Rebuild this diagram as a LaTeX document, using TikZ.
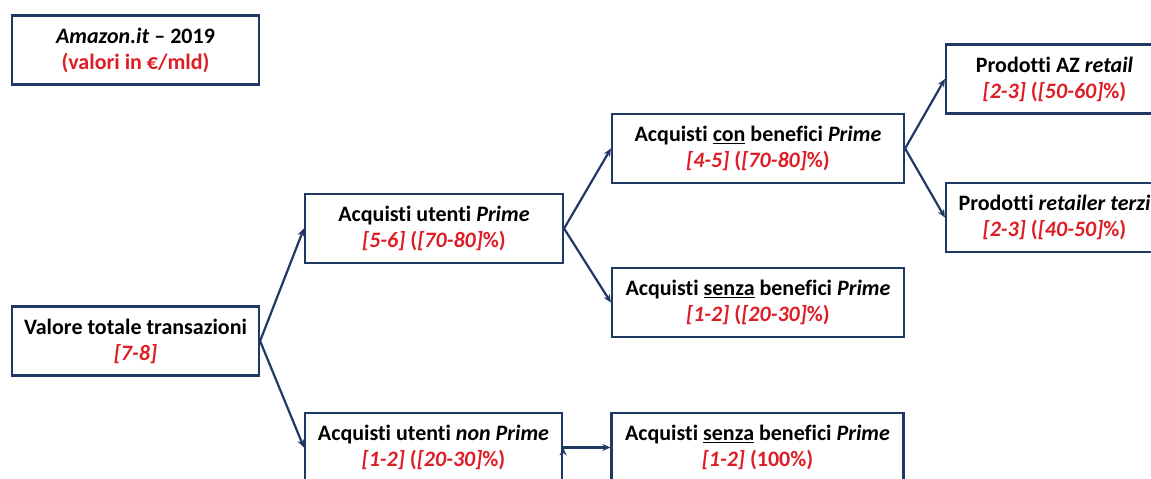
\documentclass[tikz,border=0pt]{standalone}
\usepackage{fontspec}
\setmainfont{Carlito}[Ligatures={TeX,NoCommon}]
\usetikzlibrary{positioning, arrows.meta}
\definecolor{navy}{RGB}{31,56,100}
\definecolor{valred}{RGB}{222,30,38}
\newcommand{\val}[1]{\textcolor{valred}{#1}}
\tikzset{
	->, % makes the connectors directed
	>={Stealth[length=8pt,width=7pt]}, % small arrow heads
	x=1pt, y=-1pt, % one unit is one pixel of the reference, y grows downwards
	every node/.style={font=\bfseries\fontsize{22}{26}\selectfont},
	box/.style={draw=navy, line width=2.2pt, fill=white, align=center, minimum height=69pt, inner sep=0pt}, % every box of the tree
	link/.style={draw=navy, line width=2.2pt}, % connectors between boxes
}
\begin{document}
\begin{tikzpicture}
	\useasboundingbox (0,0) rectangle (1151,479);
	\clip (0,0) rectangle (1151,479);
	\node[box, minimum width=247pt] (title) at (135.5,50) {\textit{Amazon.it} -- 2019\\ \val{(valori in €/mld)}};
	\node[box, minimum width=247pt] (tot) at (135.5,341) {Valore totale transazioni\\ \val{\textit{[7-8]}}};
	\node[box, minimum width=258pt] (prime) at (434,228.5) {Acquisti utenti \textit{Prime}\\ \val{\textit{[5-6]} (\textit{[70-80]}\%)}};
	\node[box, minimum width=257pt] (nonprime) at (433.5,447.5) {Acquisti utenti \textit{non Prime}\\ \val{\textit{[1-2]} (\textit{[20-30]}\%)}};
	\node[box, minimum width=292pt] (con) at (758,148.5) {Acquisti \underline{con} benefici \textit{Prime}\\ \val{\textit{[4-5]} (\textit{[70-80]}\%)}};
	\node[box, minimum width=292pt] (senza) at (758,302.5) {Acquisti \underline{senza} benefici \textit{Prime}\\ \val{\textit{[1-2]} (\textit{[20-30]}\%)}};
	\node[box, minimum width=292pt] (senzanp) at (757.5,447.5) {Acquisti \underline{senza} benefici \textit{Prime}\\ \val{\textit{[1-2]} (100\%)}};
	\node[box, minimum width=217pt] (retail) at (1054.5,79) {Prodotti AZ \textit{retail}\\ \val{\textit{[2-3]} (\textit{[50-60]}\%)}};
	\node[box, minimum width=217pt] (terzi) at (1054.5,217.5) {Prodotti \textit{retailer terzi}\\ \val{\textit{[2-3]} (\textit{[40-50]}\%)}};
	\path[link]	(tot.east) edge (prime.west)
			(tot.east) edge (nonprime.west)
			(prime.east) edge (con.west)
			(prime.east) edge (senza.west)
			(con.east) edge (retail.west)
			(con.east) edge (terzi.west)
			(nonprime.east) edge (senzanp.west);
\end{tikzpicture}
\end{document}
